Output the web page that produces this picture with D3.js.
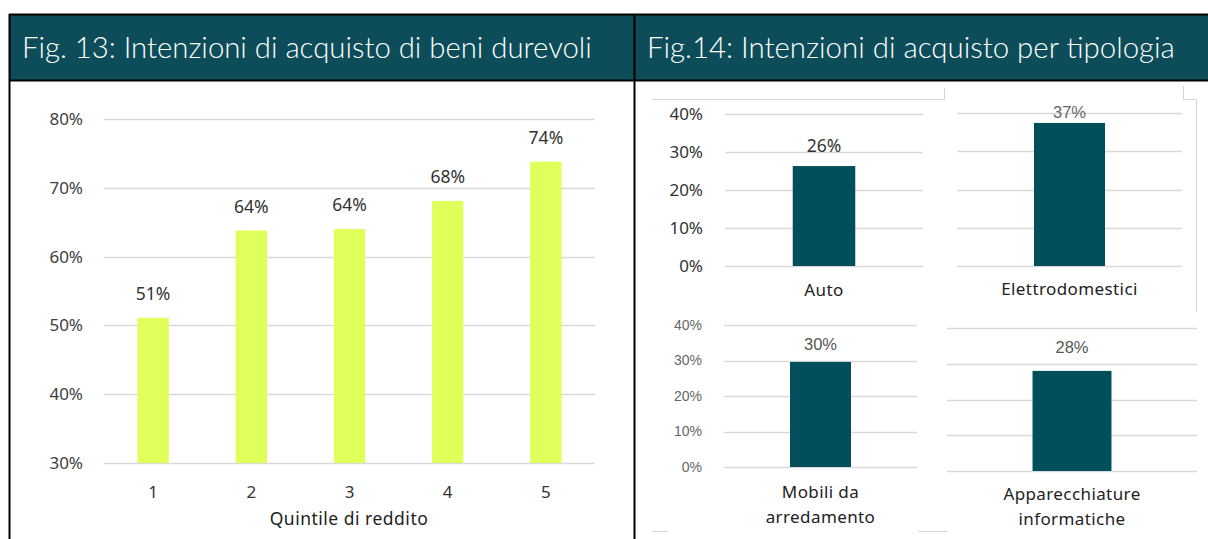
<!DOCTYPE html>
<meta charset="utf-8">
<style>
body { margin: 0; background: #fff; }
svg { display: block; }
.title { fill: #fff; font-family: Lato, "Open Sans", sans-serif; font-weight: 300; }
.grid line { stroke: #d9d9d9; stroke-width: 1.3px; }
.frame { stroke: #000; stroke-width: 2px; fill: none; }
.crop { stroke: #d4d4d4; stroke-width: 1px; fill: none; }
</style>
<svg width="1208" height="539"></svg>
<script src="https://cdn.jsdelivr.net/npm/d3@7"></script>
<script>

// Fig. 13 data
var quintili = ["1", "2", "3", "4", "5"];
var intenzioniQuintile = [51.1, 63.8, 64.0, 68.1, 73.8];
var ticksFig13 = [30, 40, 50, 60, 70, 80];

// Fig. 14 data
var tipologie = ["Auto", "Elettrodomestici", "Mobili da|arredamento", "Apparecchiature|informatiche"];
var intenzioniTipologia = [26.3, 37.4, 29.6, 28.0];
var ticksFig14 = [0, 10, 20, 30, 40];

var titoli = ["Fig. 13: Intenzioni di acquisto di beni durevoli", "Fig.14: Intenzioni di acquisto per tipologia"];

var svg = d3.select("svg");
var pct = function(d) { return d + "%"; };

// header band and black frame
svg.append("rect").attr("x", 9).attr("y", 15).attr("width", 1199).attr("height", 65).attr("fill", "#0d4d59");
svg.append("path").attr("class", "frame").attr("d", "M9,14.5H1208M9,80.5H1208M9.5,14V539M634.5,14V539");

function fitText(t, w) {
  var fs = 28;
  t.style("font-size", fs + "px");
  var len = t.node().getComputedTextLength();
  t.style("font-size", (fs * w / len) + "px");
}

fitText(svg.append("text").attr("class", "title").attr("x", 22).attr("y", 58).text(titoli[0]), 570);
fitText(svg.append("text").attr("class", "title").attr("x", 647).attr("y", 58).text(titoli[1]), 528);

// ---------- Fig. 13 ----------
var x13 = d3.scaleBand().domain(quintili).range([104, 595]).paddingInner(0.68).paddingOuter(0.34);
var y13 = d3.scaleLinear().domain([30, 80]).range([463, 119]);
var f13 = "'Noto Sans', 'Open Sans', sans-serif";

var g13 = svg.append("g");
g13.append("g").attr("class", "grid").selectAll("line")
  .data(ticksFig13).enter().append("line")
    .attr("x1", 104).attr("x2", 595)
    .attr("y1", function(d) { return Math.round(y13(d)) + 0.5; })
    .attr("y2", function(d) { return Math.round(y13(d)) + 0.5; });

var ax13 = g13.append("g").attr("transform", "translate(86,0)")
  .call(d3.axisLeft(y13).tickValues(ticksFig13).tickFormat(pct).tickSize(0));
ax13.select(".domain").remove();
ax13.selectAll("text").attr("fill", "#404040").style("font-family", f13).style("font-size", "17px");

g13.selectAll(".bar").data(intenzioniQuintile).enter().append("rect")
  .attr("x", function(d, i) { return x13(quintili[i]); })
  .attr("width", x13.bandwidth())
  .attr("y", function(d) { return y13(d); })
  .attr("height", function(d) { return y13(30) - y13(d); })
  .attr("fill", "#e1ff5b");

g13.selectAll(".val").data(intenzioniQuintile).enter().append("text")
  .attr("x", function(d, i) { return x13(quintili[i]) + x13.bandwidth() / 2; })
  .attr("y", function(d) { return y13(d) - 24; })
  .attr("dy", "0.35em")
  .attr("text-anchor", "middle")
  .attr("fill", "#333")
  .style("font-family", f13).style("font-size", "17.5px")
  .text(function(d) { return Math.round(d) + "%"; });

var xa13 = g13.append("g").attr("transform", "translate(0,483)")
  .call(d3.axisBottom(x13).tickSize(0));
xa13.select(".domain").remove();
xa13.selectAll("text").attr("fill", "#333").style("font-family", f13).style("font-size", "17px");

g13.append("text").attr("x", 349).attr("y", 519).attr("dy", "0.35em").attr("text-anchor", "middle")
  .attr("fill", "#222").style("font-family", f13).style("font-size", "17.5px").style("letter-spacing", "0.5px")
  .text("Quintile di reddito");

// ---------- Fig. 14 ----------
var pannelli = [
  { x0: 725, x1: 923, top: 114, bottom: 266, assi: true, assiCol: "#333", assiFs: 17, valOff: 20, valCol: "#333", catOff: 30 },
  { x0: 957, x1: 1182, top: 113, bottom: 266, assi: false, valOff: 11, valCol: "#666", catOff: 29 },
  { x0: 724, x1: 917, top: 325, bottom: 467, assi: true, assiCol: "#666", assiFs: 14, valOff: 18, valCol: "#555", catOff: 31 },
  { x0: 947, x1: 1197, top: 328, bottom: 471, assi: false, valOff: 24, valCol: "#555", catOff: 29 }
];
var f14 = "'Noto Sans', 'Open Sans', sans-serif";
var f14b = "'Liberation Sans', Arial, sans-serif";

pannelli.forEach(function(p, i) {
  var cat = tipologie[i];
  var x = d3.scaleBand().domain([cat]).range([p.x0, p.x1]).padding(0.52);
  var y = d3.scaleLinear().domain([0, 40]).range([p.bottom, p.top]);
  var g = svg.append("g");

  g.append("g").attr("class", "grid").selectAll("line")
    .data(ticksFig14).enter().append("line")
      .attr("x1", p.x0).attr("x2", p.x1)
      .attr("y1", function(d) { return Math.round(y(d)) + 0.5; })
      .attr("y2", function(d) { return Math.round(y(d)) + 0.5; });

  if (p.assi) {
    var ay = g.append("g").attr("transform", "translate(" + (p.x0 - 19) + ",0)")
      .call(d3.axisLeft(y).tickValues(ticksFig14).tickFormat(pct).tickSize(0));
    ay.select(".domain").remove();
    ay.selectAll("text").attr("fill", p.assiCol)
      .style("font-family", i == 0 ? f14 : f14b).style("font-size", p.assiFs + "px");
  }

  var v = intenzioniTipologia[i];
  g.append("rect")
    .attr("x", x(cat)).attr("width", x.bandwidth())
    .attr("y", y(v)).attr("height", y(0) - y(v))
    .attr("fill", "#004f5a");

  g.append("text")
    .attr("x", x(cat) + x.bandwidth() / 2).attr("y", y(v) - p.valOff).attr("dy", "0.35em")
    .attr("text-anchor", "middle").attr("fill", p.valCol)
    .style("font-family", i == 0 ? f14 : f14b).style("font-size", i == 0 ? "17.5px" : "16.5px")
    .text(Math.round(v) + "%");

  var righe = cat.split("|");
  g.append("text")
    .attr("x", x(cat) + x.bandwidth() / 2).attr("y", p.bottom + p.catOff).attr("dy", "0.35em")
    .attr("text-anchor", "middle").attr("fill", "#222")
    .style("font-family", f14).style("font-size", "17px").style("letter-spacing", "0.4px")
    .selectAll("tspan").data(righe).enter().append("tspan")
      .attr("x", x(cat) + x.bandwidth() / 2)
      .attr("dy", function(d, j) { return j ? "25px" : 0; })
      .text(function(d) { return d; });
});

// bordi residui delle immagini ritagliate
svg.append("path").attr("class", "crop")
  .attr("d", "M652,99.5H944.5V88M1183.5,86V99.5H1196.5V310M652,531.5H668M918,531.5H947M1196.5,300V312");

</script>
